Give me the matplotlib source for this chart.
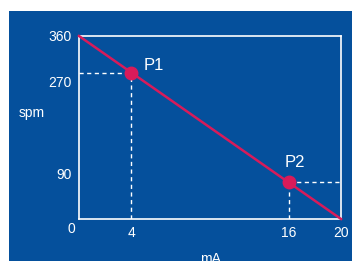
import matplotlib.pyplot as plt
from matplotlib.patches import Rectangle

plt.rcParams['font.family'] = ['Liberation Sans', 'DejaVu Sans']

# data
ma = [0, 20]
spm = [360, 0]
points_x = [4, 16]
points_y = [288, 72]
point_labels = ["P1", "P2"]
label_offsets = [(9, 0), (-3, 9)]
xticks = [4, 16, 20]
yticks = [90, 270, 360]

bg = '#05509c'
red = '#d81b5a'

fig = plt.figure(figsize=(3.52, 2.61), dpi=100)
fig.patch.set_facecolor('white')
fig.patches.append(Rectangle((9 / 352, 0), 1, 1 - 11 / 261, transform=fig.transFigure,
                             facecolor=bg, edgecolor='none', zorder=-10))

ax = fig.add_axes([79 / 352, 1 - 219 / 261, 262 / 352, 183 / 261], zorder=1)
ax.set_facecolor(bg)
ax.set_xlim(0, 20)
ax.set_ylim(0, 360)
for s in ax.spines.values():
    s.set_color('white')
    s.set_linewidth(1.2)

# dashed guides
dash = (0, (3, 2.5))
ax.plot([0, 4], [288, 288], color='white', ls=dash, lw=1)
ax.plot([4, 4], [0, 288], color='white', ls=dash, lw=1)
ax.plot([16, 20], [72, 72], color='white', ls=dash, lw=1)
ax.plot([16, 16], [0, 72], color='white', ls=dash, lw=1)

ax.plot(ma, spm, color=red, lw=1.8, clip_on=False, zorder=3)
ax.plot(points_x, points_y, 'o', color=red, ms=9, zorder=4)
for x, y, t, off in zip(points_x, points_y, point_labels, label_offsets):
    ax.annotate(t, (x, y), xytext=off, textcoords='offset points',
                color='white', fontsize=12, va='bottom')

ax.set_xticks(xticks)
ax.set_yticks(yticks)
ax.tick_params(length=0, colors='white', labelsize=10, pad=5)
ax.text(-0.3, -20, "0", color='white', fontsize=10, ha='right', va='center')

ax.text(-3.6, 208, "spm", color='white', fontsize=10, ha='center', va='center',
        clip_on=False)
ax.set_xlabel("mA", color='white', fontsize=10, labelpad=9)

fig.savefig('out.png', dpi=100)
